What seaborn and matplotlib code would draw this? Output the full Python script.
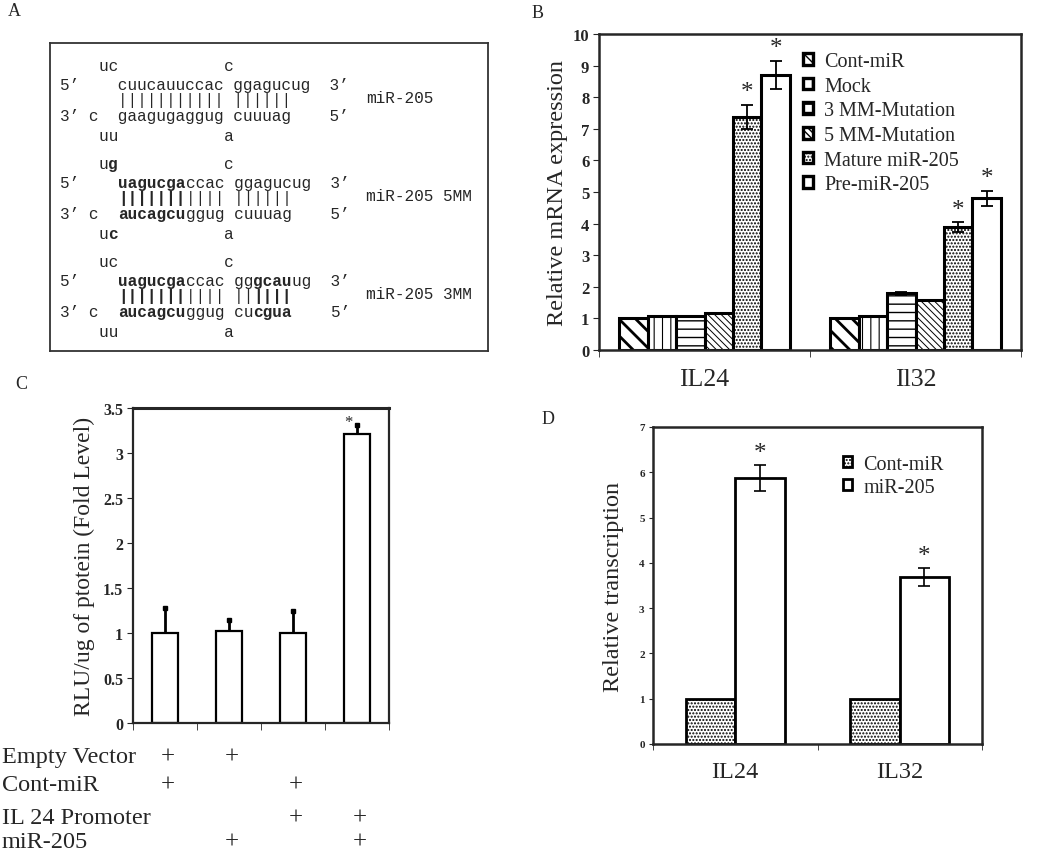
import numpy as np
import pandas as pd
import seaborn as sns
import matplotlib.pyplot as plt
from matplotlib.patches import Patch
from matplotlib.ticker import FuncFormatter
from matplotlib.transforms import blended_transform_factory

W, H = 1050, 854

# Panel A: duplex rows, bold parts are wrapped in *...*
a_names = ["miR-205", "miR-205 5MM", "miR-205 3MM"]
a_wt = [
    "    uc           c",
    "5\u2019    cuucauuccac ggagucug  3\u2019",
    "      ||||||||||| ||||||",
    "3\u2019 c  gaagugaggug cuuuag    5\u2019",
    "    uu           a",
]
a_5mm = [
    "    u*g*           c",
    "5\u2019    *uagucga*ccac ggagucug  3\u2019",
    "      *|||||||*|||| ||||||",
    "3\u2019 c  *aucagcu*ggug cuuuag    5\u2019",
    "    u*c*           a",
]
a_3mm = [
    "    uc           c",
    "5\u2019    *uagucga*ccac gg*gcau*ug  3\u2019",
    "      *|||||||*|||| ||*||||*",
    "3\u2019 c  *aucagcu*ggug cu*cgua*    5\u2019",
    "    uu           a",
]

# Panel B
b_genes = ["IL24", "Il32"]
b_groups = ["Cont-miR", "Mock", "3 MM-Mutation", "5 MM-Mutation", "Mature miR-205", "Pre-miR-205"]
b_il24 = [1.0, 1.08, 1.08, 1.18, 7.38, 8.70]
b_il32 = [1.0, 1.08, 1.80, 1.59, 3.88, 4.80]
b_err_il24 = [0, 0, 0, 0, 0.38, 0.45]
b_err_il32 = [0, 0, 0.05, 0, 0.16, 0.23]
b_sig = ["Mature miR-205", "Pre-miR-205"]
b_hatches = ["\\\\", "||", "--", "\\\\\\\\\\", ".....", ""]
b_hatch_lw = [2.0, 0.8, 1.0, 0.7, 1.0, 1.0]

# Panel C
c_conds = ["EV + Cont-miR", "EV + miR-205", "Promoter + Cont-miR", "Promoter + miR-205"]
c_values = [1.0, 1.02, 1.0, 3.21]
c_err = [0.28, 0.12, 0.25, 0.10]
c_rows = ["Empty Vector", "Cont-miR", "IL 24 Promoter", "miR-205"]
c_plus = [[1, 1, 0, 0], [1, 0, 1, 0], [0, 0, 1, 1], [0, 1, 0, 1]]
c_sig = [0, 0, 0, 1]

# Panel D
d_genes = ["IL24", "IL32"]
d_groups = ["Cont-miR", "miR-205"]
d_cont = [1.0, 1.0]
d_mir = [5.87, 3.69]
d_err_cont = [0, 0]
d_err_mir = [0.29, 0.19]
d_hatches = [".....", ""]


def rect(x0, y0, x1, y1):
    return [x0 / W, 1 - y1 / H, (x1 - x0) / W, (y1 - y0) / H]


def segments(row):
    out, col, bold, buf, start = [], 0, False, "", 0
    for ch in row:
        if ch == "*":
            if buf:
                out.append((start, buf, bold))
            bold = not bold
            buf = ""
        else:
            if not buf:
                start = col
            buf += ch
            col += 1
    if buf:
        out.append((start, buf, bold))
    # drop leading spaces, shift start instead
    clean = []
    for start, text, bold in out:
        s = text.lstrip(" ")
        if s:
            clean.append((start + len(text) - len(s), s, bold))
    return clean


def hatch_lw(patch, lw):
    if hasattr(patch, "set_hatch_linewidth"):
        patch.set_hatch_linewidth(lw)


sns.set_style("ticks")
plt.rcParams["font.family"] = ["Liberation Serif", "DejaVu Serif"]
plt.rcParams["hatch.linewidth"] = 1.0
MONO = ["Liberation Mono", "DejaVu Sans Mono"]

fig = plt.figure(figsize=(W / 100, H / 100), dpi=100)

# ---------- A ----------
axA = fig.add_axes(rect(50, 44, 488, 352))
axA.set_xlim(50, 488)
axA.set_ylim(352, 44)
axA.set_xticks([])
axA.set_yticks([])
for s in axA.spines.values():
    s.set_linewidth(1.3)
    s.set_color("#333333")

a_font = 11.6
cw = a_font * 0.6 * 100 / 72
row_y = [67, 86, 101, 117, 137]
for g, (rows, name) in enumerate(zip([a_wt, a_5mm, a_3mm], a_names)):
    off = g * 98
    for r, row in enumerate(rows):
        for start, text, bold in segments(row):
            axA.text(60 + start * cw, row_y[r] + off, text, family=MONO, fontsize=a_font,
                     fontweight="bold" if bold else "normal", va="center", ha="left")
    axA.text(366, 99 + off, name, family=MONO, fontsize=a_font, va="center", ha="left")

# ---------- B ----------
axB = fig.add_axes(rect(599, 35, 1021, 351))
dfB = pd.DataFrame({
    "gene": np.repeat(b_genes, len(b_groups)),
    "group": b_groups * 2,
    "value": b_il24 + b_il32,
})
sns.barplot(data=dfB, x="gene", y="value", hue="group", order=b_genes, hue_order=b_groups,
            palette=["white"] * len(b_groups), edgecolor="black", linewidth=2.2, width=0.81,
            saturation=1, errorbar=None, legend=False, ax=axB)
b_err = [b_err_il24, b_err_il32]
for i, (cont, h) in enumerate(zip(axB.containers, b_hatches)):
    for j, bar in enumerate(cont):
        bar.set_hatch(h)
        hatch_lw(bar, b_hatch_lw[i])
        x = bar.get_x() + bar.get_width() / 2
        top = bar.get_height()
        e = b_err[j][i]
        if e > 0:
            axB.errorbar(x, top, yerr=e, fmt="none", ecolor="black", elinewidth=1.3,
                         capsize=4, capthick=1.3)
        if b_groups[i] in b_sig:
            axB.text(x, top + e + 0.05, "*", ha="center", va="bottom", fontsize=18)
axB.set_ylim(0, 10)
axB.set_yticks(range(0, 11))
axB.set_xlim(-0.5, 1.5)
axB.set_xticks([0, 1])
axB.set_xticklabels(b_genes)
axB.set_xticks([-0.5, 0.5, 1.5], minor=True)
axB.tick_params(axis="x", which="major", length=0, pad=13, labelsize=18.5)
axB.tick_params(axis="x", which="minor", length=5, direction="out")
axB.tick_params(axis="y", length=4, direction="out", labelsize=12, pad=3)
for lab in axB.get_yticklabels():
    lab.set_fontweight("bold")
axB.set_xlabel("")
axB.set_ylabel("Relative mRNA expression", fontsize=17.5, labelpad=3)
for s in axB.spines.values():
    s.set_linewidth(1.8)
    s.set_visible(True)
handles = []
for g, h, lw in zip(b_groups, b_hatches, b_hatch_lw):
    p = Patch(facecolor="white", edgecolor="black", hatch=h, linewidth=2.4, label=g)
    hatch_lw(p, lw)
    handles.append(p)
axB.legend(handles=handles, loc="upper left", bbox_to_anchor=(803 / W, 1 - 53 / H),
           bbox_transform=fig.transFigure, frameon=False, fontsize=14.5,
           handlelength=0.5, handleheight=0.5, handletextpad=0.55, labelspacing=0.28,
           borderpad=0, borderaxespad=0)

# ---------- C ----------
axC = fig.add_axes(rect(133, 409, 389, 724))
dfC = pd.DataFrame({"cond": c_conds, "value": c_values})
sns.barplot(data=dfC, x="cond", y="value", color="white", edgecolor="black", linewidth=1.6,
            width=0.4, saturation=1, errorbar=None, ax=axC)
for k, bar in enumerate(axC.containers[0]):
    x = bar.get_x() + bar.get_width() / 2
    top = bar.get_height()
    axC.vlines(x, top, top + c_err[k], color="black", lw=2)
    axC.plot(x, top + c_err[k], "s", color="black", ms=3.5)
    if c_sig[k]:
        axC.text(x - 0.13, top + c_err[k] - 0.06, "*", ha="center", va="bottom", fontsize=12)
axC.set_ylim(0, 3.5)
axC.set_yticks(np.arange(0, 3.51, 0.5))
axC.yaxis.set_major_formatter(FuncFormatter(lambda v, p: f"{v:g}"))
axC.set_xlim(-0.5, 3.5)
axC.set_xticks([])
axC.set_xticks([-0.5, 0.5, 1.5, 2.5, 3.5], minor=True)
axC.tick_params(axis="x", which="minor", length=5, direction="out")
axC.tick_params(axis="y", length=4, direction="out", labelsize=11.5, pad=3)
for lab in axC.get_yticklabels():
    lab.set_fontweight("bold")
axC.set_xlabel("")
axC.set_ylabel("RLU/ug of ptotein (Fold Level)", fontsize=17, labelpad=6)
for s in axC.spines.values():
    s.set_linewidth(1.6)
    s.set_visible(True)
axC.spines["top"].set_linewidth(2.2)

# +/- table under C
row_label_y = [758, 786, 819, 843]
tr = blended_transform_factory(axC.transData, fig.transFigure)
for r, (label, flags) in enumerate(zip(c_rows, c_plus)):
    fig.text(2 / W, 1 - row_label_y[r] / H, label, fontsize=17.5, va="center", ha="left")
    for k, f in enumerate(flags):
        if f:
            axC.text(k + 0.05, 1 - row_label_y[r] / H, "+", transform=tr, fontsize=18,
                     ha="center", va="center", clip_on=False)

# ---------- D ----------
axD = fig.add_axes(rect(653, 428, 982, 745))
dfD = pd.DataFrame({
    "gene": d_genes * 2,
    "group": np.repeat(d_groups, len(d_genes)),
    "value": d_cont + d_mir,
})
sns.barplot(data=dfD, x="gene", y="value", hue="group", order=d_genes, hue_order=d_groups,
            palette=["white", "white"], edgecolor="black", linewidth=2, width=0.6,
            saturation=1, errorbar=None, legend=False, ax=axD)
d_err = [d_err_cont, d_err_mir]
for i, (cont, h) in enumerate(zip(axD.containers, d_hatches)):
    for j, bar in enumerate(cont):
        bar.set_hatch(h)
        x = bar.get_x() + bar.get_width() / 2
        top = bar.get_height()
        e = d_err[i][j]
        if e > 0:
            axD.errorbar(x, top, yerr=e, fmt="none", ecolor="black", elinewidth=1.2,
                         capsize=4, capthick=1.2)
            axD.text(x, top + e + 0.02, "*", ha="center", va="bottom", fontsize=18)
axD.set_ylim(0, 7)
axD.set_yticks(range(0, 8))
axD.set_xlim(-0.5, 1.5)
axD.set_xticks([0, 1])
axD.set_xticklabels(d_genes)
axD.set_xticks([-0.5, 0.5, 1.5], minor=True)
axD.tick_params(axis="x", which="major", length=0, pad=12, labelsize=17.5)
axD.tick_params(axis="x", which="minor", length=4, direction="out")
axD.tick_params(axis="y", length=3, direction="out", labelsize=8, pad=3)
for lab in axD.get_yticklabels():
    lab.set_fontweight("bold")
axD.set_xlabel("")
axD.set_ylabel("Relative transcription", fontsize=17.5, labelpad=11)
for s in axD.spines.values():
    s.set_linewidth(1.8)
    s.set_visible(True)
handles = [Patch(facecolor="white", edgecolor="black", hatch=h, linewidth=2, label=g)
           for g, h in zip(d_groups, d_hatches)]
axD.legend(handles=handles, loc="upper left", bbox_to_anchor=(843 / W, 1 - 456 / H),
           bbox_transform=fig.transFigure, frameon=False, fontsize=14.5,
           handlelength=0.45, handleheight=0.45, handletextpad=0.55, labelspacing=0.2,
           borderpad=0, borderaxespad=0)

# panel letters
for letter, (x, y) in zip("ABCD", [(8, 12), (532, 14), (15, 385), (542, 420)]):
    fig.text(x / W, 1 - y / H, letter, fontsize=13, va="center", ha="left")

fig.savefig("out.png", dpi=100)
